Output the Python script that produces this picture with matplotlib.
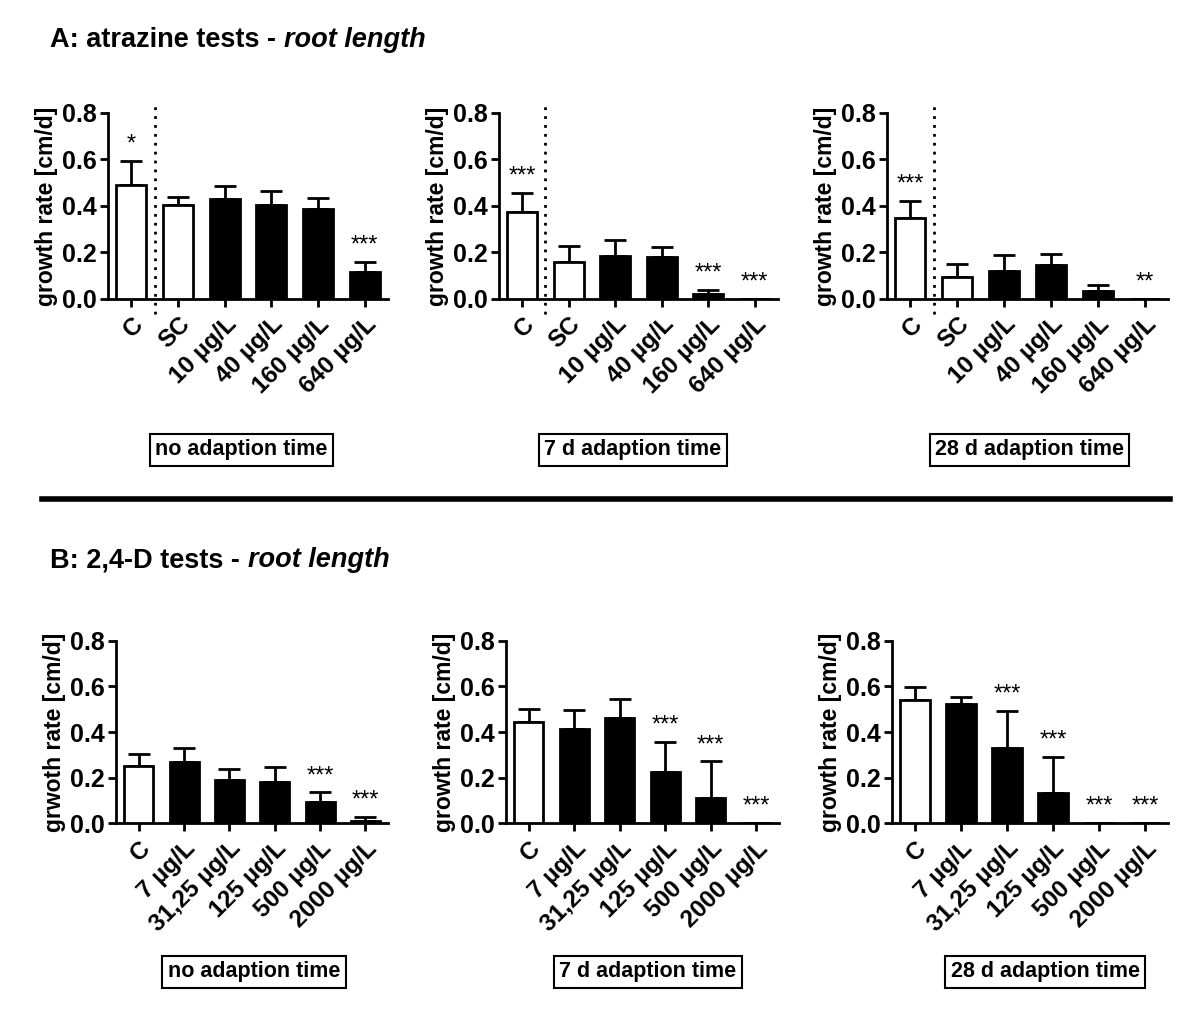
"""
Root length growth rates - atrazine and 2,4-D tests (bar charts with SD)
"""
import matplotlib
matplotlib.use("Agg")
import matplotlib.pyplot as plt

plt.rcParams['font.family'] = ['Liberation Sans', 'DejaVu Sans']
plt.rcParams['font.weight'] = 'bold'
plt.rcParams['axes.labelweight'] = 'bold'

# atrazine tests (A)
a_labels = ["C", "SC", "10 µg/L", "40 µg/L", "160 µg/L", "640 µg/L"]
a_fill = ["white", "white", "black", "black", "black", "black"]
a0_mean = [0.492, 0.406, 0.428, 0.402, 0.388, 0.117]
a0_sd = [0.102, 0.033, 0.059, 0.063, 0.044, 0.042]
a0_stars = ["*", "", "", "", "", "***"]
a7_mean = [0.375, 0.160, 0.185, 0.179, 0.020, 0.0]
a7_sd = [0.082, 0.069, 0.067, 0.046, 0.019, 0.0]
a7_stars = ["***", "", "", "", "***", "***"]
a28_mean = [0.348, 0.093, 0.119, 0.145, 0.033, 0.0]
a28_sd = [0.072, 0.057, 0.070, 0.047, 0.026, 0.0]
a28_stars = ["***", "", "", "", "", "**"]

# 2,4-D tests (B)
b_labels = ["C", "7 µg/L", "31,25 µg/L", "125 µg/L", "500 µg/L", "2000 µg/L"]
b_fill = ["white", "black", "black", "black", "black", "black"]
b0_mean = [0.249, 0.269, 0.187, 0.181, 0.094, 0.010]
b0_sd = [0.055, 0.062, 0.050, 0.065, 0.041, 0.016]
b0_stars = ["", "", "", "", "***", "***"]
b7_mean = [0.445, 0.415, 0.462, 0.225, 0.111, 0.0]
b7_sd = [0.055, 0.081, 0.082, 0.133, 0.160, 0.0]
b7_stars = ["", "", "", "***", "***", "***"]
b28_mean = [0.540, 0.521, 0.330, 0.132, 0.0, 0.0]
b28_sd = [0.059, 0.034, 0.163, 0.157, 0.0, 0.0]
b28_stars = ["", "", "***", "***", "***", "***"]

box_labels = ["no adaption time", "7 d adaption time", "28 d adaption time"]

fig = plt.figure(figsize=(12, 10.21), dpi=100)


def bar_panel(rect, labels, fill, mean, sd, stars, ylabel, divider):
    ax = fig.add_axes(rect)
    x = list(range(len(labels)))
    ax.bar(x, mean, width=0.64, color=fill, edgecolor="black", linewidth=2, zorder=3)
    ax.errorbar(x, mean, yerr=[[0] * len(sd), sd], fmt="none", ecolor="black",
                elinewidth=2, capsize=8, capthick=2, zorder=2)
    for xi, m, s, st in zip(x, mean, sd, stars):
        if st:
            ax.text(xi, m + s + 0.045, st, ha="center", va="baseline",
                    fontsize=17, fontweight="normal")
    if divider:
        ax.axvline(0.5, ymin=-0.08, ymax=1.06, color="black", lw=2,
                   ls=(0, (1, 2.2)), clip_on=False)
    ax.set_xlim(-0.5, 5.5)
    ax.set_ylim(0, 0.8)
    ax.set_yticks([0, 0.2, 0.4, 0.6, 0.8])
    ax.set_yticklabels(["0.0", "0.2", "0.4", "0.6", "0.8"])
    ax.set_xticks(x)
    ax.set_xticklabels(labels, rotation=45, ha="right", rotation_mode="anchor")
    ax.tick_params(axis="y", labelsize=18, width=2, length=6, pad=2)
    ax.tick_params(axis="x", labelsize=17.5, width=2, length=6, pad=4)
    ax.set_ylabel(ylabel, fontsize=16.5, labelpad=3)
    for side in ["top", "right"]:
        ax.spines[side].set_visible(False)
    for side in ["left", "bottom"]:
        ax.spines[side].set_linewidth(2)
    return ax


# top row
bar_panel([0.090, 0.7072, 0.2333, 0.1822], a_labels, a_fill, a0_mean, a0_sd, a0_stars,
          "growth rate [cm/d]", True)
bar_panel([0.4158, 0.7072, 0.2325, 0.1822], a_labels, a_fill, a7_mean, a7_sd, a7_stars,
          "growth rate [cm/d]", True)
bar_panel([0.7392, 0.7072, 0.2342, 0.1822], a_labels, a_fill, a28_mean, a28_sd, a28_stars,
          "growth rate [cm/d]", True)

# bottom row
bar_panel([0.0967, 0.1939, 0.2267, 0.1783], b_labels, b_fill, b0_mean, b0_sd, b0_stars,
          "grwoth rate [cm/d]", False)
bar_panel([0.4217, 0.1939, 0.2275, 0.1783], b_labels, b_fill, b7_mean, b7_sd, b7_stars,
          "growth rate [cm/d]", False)
bar_panel([0.7433, 0.1939, 0.2300, 0.1783], b_labels, b_fill, b28_mean, b28_sd, b28_stars,
          "growth rate [cm/d]", False)

# boxed condition labels
box_style = dict(boxstyle="square,pad=0.25", facecolor="white", edgecolor="black", linewidth=1.5)
for xc, lab in zip([0.201, 0.5275, 0.858], box_labels):
    fig.text(xc, 0.5593, lab, ha="center", va="center", fontsize=15.5, bbox=box_style)
for xc, lab in zip([0.2117, 0.540, 0.871], box_labels):
    fig.text(xc, 0.048, lab, ha="center", va="center", fontsize=15.5, bbox=box_style)

# separator line
fig.add_artist(plt.Line2D([0.035, 0.975], [0.5113, 0.5113], color="black", lw=4,
                          transform=fig.transFigure))

# section titles: bold part + bold italic part
renderer = fig.canvas.get_renderer()
for y, head in [(0.961, "A: atrazine tests - "), (0.4515, "B: 2,4-D tests - ")]:
    t = fig.text(0.042, y, head, ha="left", va="center", fontsize=19.5)
    bb = t.get_window_extent(renderer=renderer)
    x_end = bb.x1 / fig.bbox.width
    fig.text(x_end, y, "root length", ha="left", va="center", fontsize=19.5, style="italic")

fig.savefig("out.png", dpi=100)
